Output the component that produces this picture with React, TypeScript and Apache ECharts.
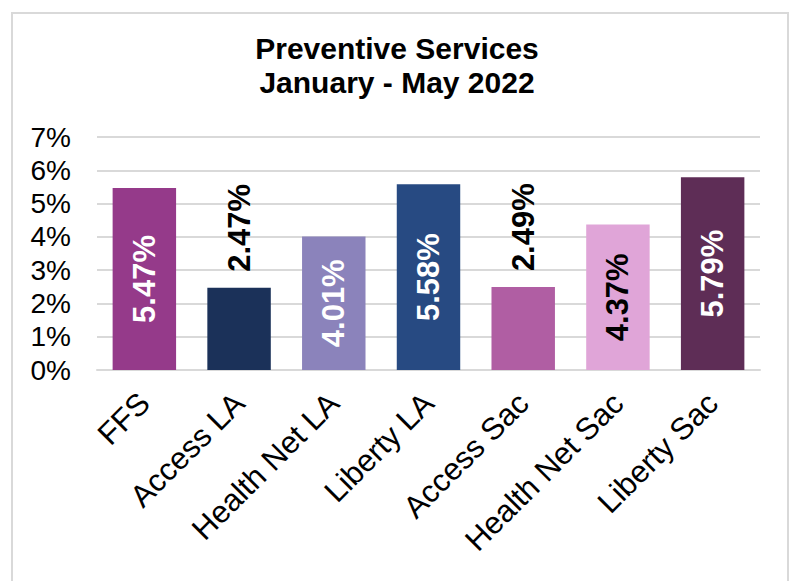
import React, { useEffect, useRef } from "react";
import * as echarts from "echarts";

const titleLines = ["Preventive Services", "January - May 2022"];
const categories = ["FFS", "Access LA", "Health Net LA", "Liberty LA", "Access Sac", "Health Net Sac", "Liberty Sac"];
const values = [5.47, 2.47, 4.01, 5.58, 2.49, 4.37, 5.79];
const yTicks = [0, 1, 2, 3, 4, 5, 6, 7];
const labelOutside = [false, true, false, false, true, false, false];

const barColors = ["#953a8a", "#1b3159", "#8b83bb", "#274a82", "#b05ea3", "#e0a5d8", "#5e2d56"];
const labelColors = ["#ffffff", "#000000", "#ffffff", "#ffffff", "#000000", "#000000", "#ffffff"];

const FONT = "'Liberation Sans', Arial, Helvetica, sans-serif";

export default function App() {
  const ref = useRef<HTMLDivElement>(null);
  useEffect(() => {
    if (!ref.current) return;
    const chart = echarts.init(ref.current, null, { renderer: "svg" });
    const data = values.map((v, i) => ({
      value: v,
      itemStyle: { color: barColors[i] },
      label: labelOutside[i]
        ? {
            show: true,
            position: "top",
            rotate: 90,
            align: "left",
            verticalAlign: "middle",
            distance: 16,
            color: labelColors[i],
          }
        : {
            show: true,
            position: "inside",
            rotate: 90,
            align: "center",
            verticalAlign: "middle",
            color: labelColors[i],
          },
    }));
    chart.setOption({
      animation: false,
      backgroundColor: "#ffffff",
      textStyle: { fontFamily: FONT },
      graphic: [
        {
          type: "rect",
          shape: { x: 12, y: 13, width: 776, height: 620 },
          style: { fill: "none", stroke: "#d9d9d9", lineWidth: 2 },
          z: -1,
        },
      ],
      title: {
        text: titleLines.join("\n"),
        left: "center",
        top: 26,
        textStyle: {
          fontFamily: FONT,
          fontSize: 30,
          fontWeight: "bold",
          color: "#000000",
          lineHeight: 34,
        },
      },
      grid: { left: 97, right: 34, top: 137, bottom: 211, containLabel: false },
      xAxis: {
        type: "category",
        data: categories,
        axisLine: { show: true, lineStyle: { color: "#d9d9d9", width: 2 } },
        axisTick: { show: false },
        axisLabel: {
          rotate: 45,
          interval: 0,
          margin: 28,
          fontFamily: FONT,
          fontSize: 31,
          color: "#000000",
        },
      },
      yAxis: {
        type: "value",
        min: 0,
        max: 7,
        interval: 1,
        axisLine: { show: false },
        axisTick: { show: false },
        splitLine: { show: true, lineStyle: { color: "#d9d9d9", width: 2 } },
        axisLabel: {
          margin: 26,
          fontFamily: FONT,
          fontSize: 28,
          color: "#000000",
          formatter: (v: number) => (yTicks.includes(v) ? `${v}%` : ""),
        },
      },
      series: [
        {
          type: "bar",
          data,
          barWidth: "67%",
          label: {
            fontFamily: FONT,
            fontSize: 31,
            fontWeight: "bold",
            formatter: (p: any) => `${p.value.toFixed(2)}%`,
          },
        },
      ],
    });
    return () => chart.dispose();
  }, []);
  return (
    <div
      ref={ref}
      style={{ position: "absolute", left: 0, top: 0, width: 794, height: 581 }}
    />
  );
}
